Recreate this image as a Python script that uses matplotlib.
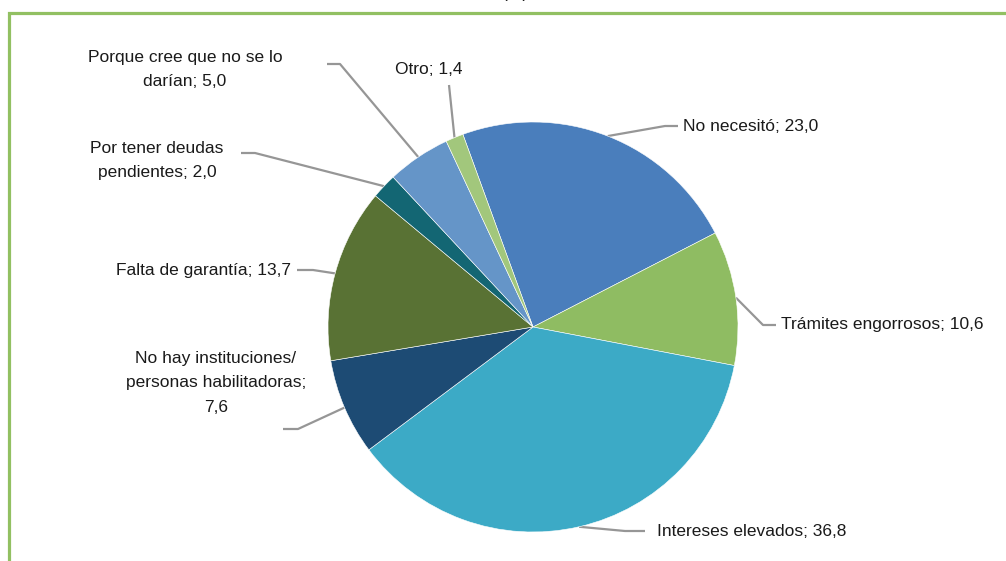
import matplotlib
matplotlib.use("Agg")
import matplotlib.pyplot as plt
import numpy as np

plt.rcParams['font.family'] = ['Liberation Sans Narrow', 'Liberation Sans', 'DejaVu Sans']

# data (%), clockwise from "No necesitó"
labels = ['No necesitó', 'Trámites engorrosos', 'Intereses elevados',
          'No hay instituciones/\npersonas habilitadoras;\n', 'Falta de garantía',
          'Por tener deudas\npendientes', 'Porque cree que no se lo\ndarían', 'Otro']
values = [23.0, 10.6, 36.8, 7.6, 13.7, 2.0, 5.0, 1.4]
colors = ['#4A7EBC', '#8FBC62', '#3CAAC6', '#1D4B74', '#597234',
          '#136673', '#6595C8', '#A2C77C']

W, H = 1006, 561
fig = plt.figure(figsize=(W / 100, H / 100), dpi=100)
ax = fig.add_axes([0, 0, 1, 1])

cx, cy, R = 533, H - 327, 205
start = 110
wedges, _ = ax.pie(values, colors=colors, startangle=start, counterclock=False,
                   center=(cx, cy), radius=R, frame=True,
                   wedgeprops=dict(edgecolor='white', linewidth=0.4))
ax.set_xlim(0, W)
ax.set_ylim(0, H)
ax.set_aspect('equal')
ax.axis('off')

# label layout: (elbow, line end, text pos, ha) in pixel coords (top-left origin)
layout = [
    ((665, 126), (678, 126), (683, 126), 'left'),
    ((763, 325), (776, 325), (781, 325), 'left'),
    ((625, 531), (645, 531), (657, 531), 'left'),
    ((298, 429), (283, 429), (216, 383), 'center'),
    ((313, 270), (297, 270), (291, 270), 'right'),
    ((255, 153), (241, 153), (157, 160), 'center'),
    ((340, 64), (327, 64), (185, 69), 'center'),
    ((449, 85), (449, 85), (429, 69), 'center'),
]

lc = '#969696'
for w, v, lab, (elb, end, tp, ha) in zip(wedges, values, labels, layout):
    mid = np.deg2rad((w.theta1 + w.theta2) / 2)
    ax_ = cx + R * np.cos(mid)
    ay_ = cy + R * np.sin(mid)
    xs = [ax_, elb[0], end[0]]
    ys = [ay_, H - elb[1], H - end[1]]
    ax.plot(xs, ys, color=lc, lw=1.6, solid_capstyle='butt', zorder=0)
    val = f"{v:.1f}".replace('.', ',')
    if lab.endswith('\n'):
        txt = lab + val
    else:
        txt = f"{lab}; {val}"
    ax.text(tp[0], H - tp[1], txt, ha=ha, va='center', fontsize=12.5,
            color='#1a1a1a', linespacing=1.75, multialignment='center')

# title remnant cut at the top edge
ax.text(515, H + 7, '(%)', ha='center', va='center', fontsize=12.5,
        color='#1a1a1a', clip_on=False)

# green frame (top and left edges)
ax.plot([9.5, 9.5, W], [0, H - 12.5, H - 12.5], color='#92C062', lw=2.3,
        solid_joinstyle='miter', clip_on=False)

fig.savefig('out.png', dpi=100)
